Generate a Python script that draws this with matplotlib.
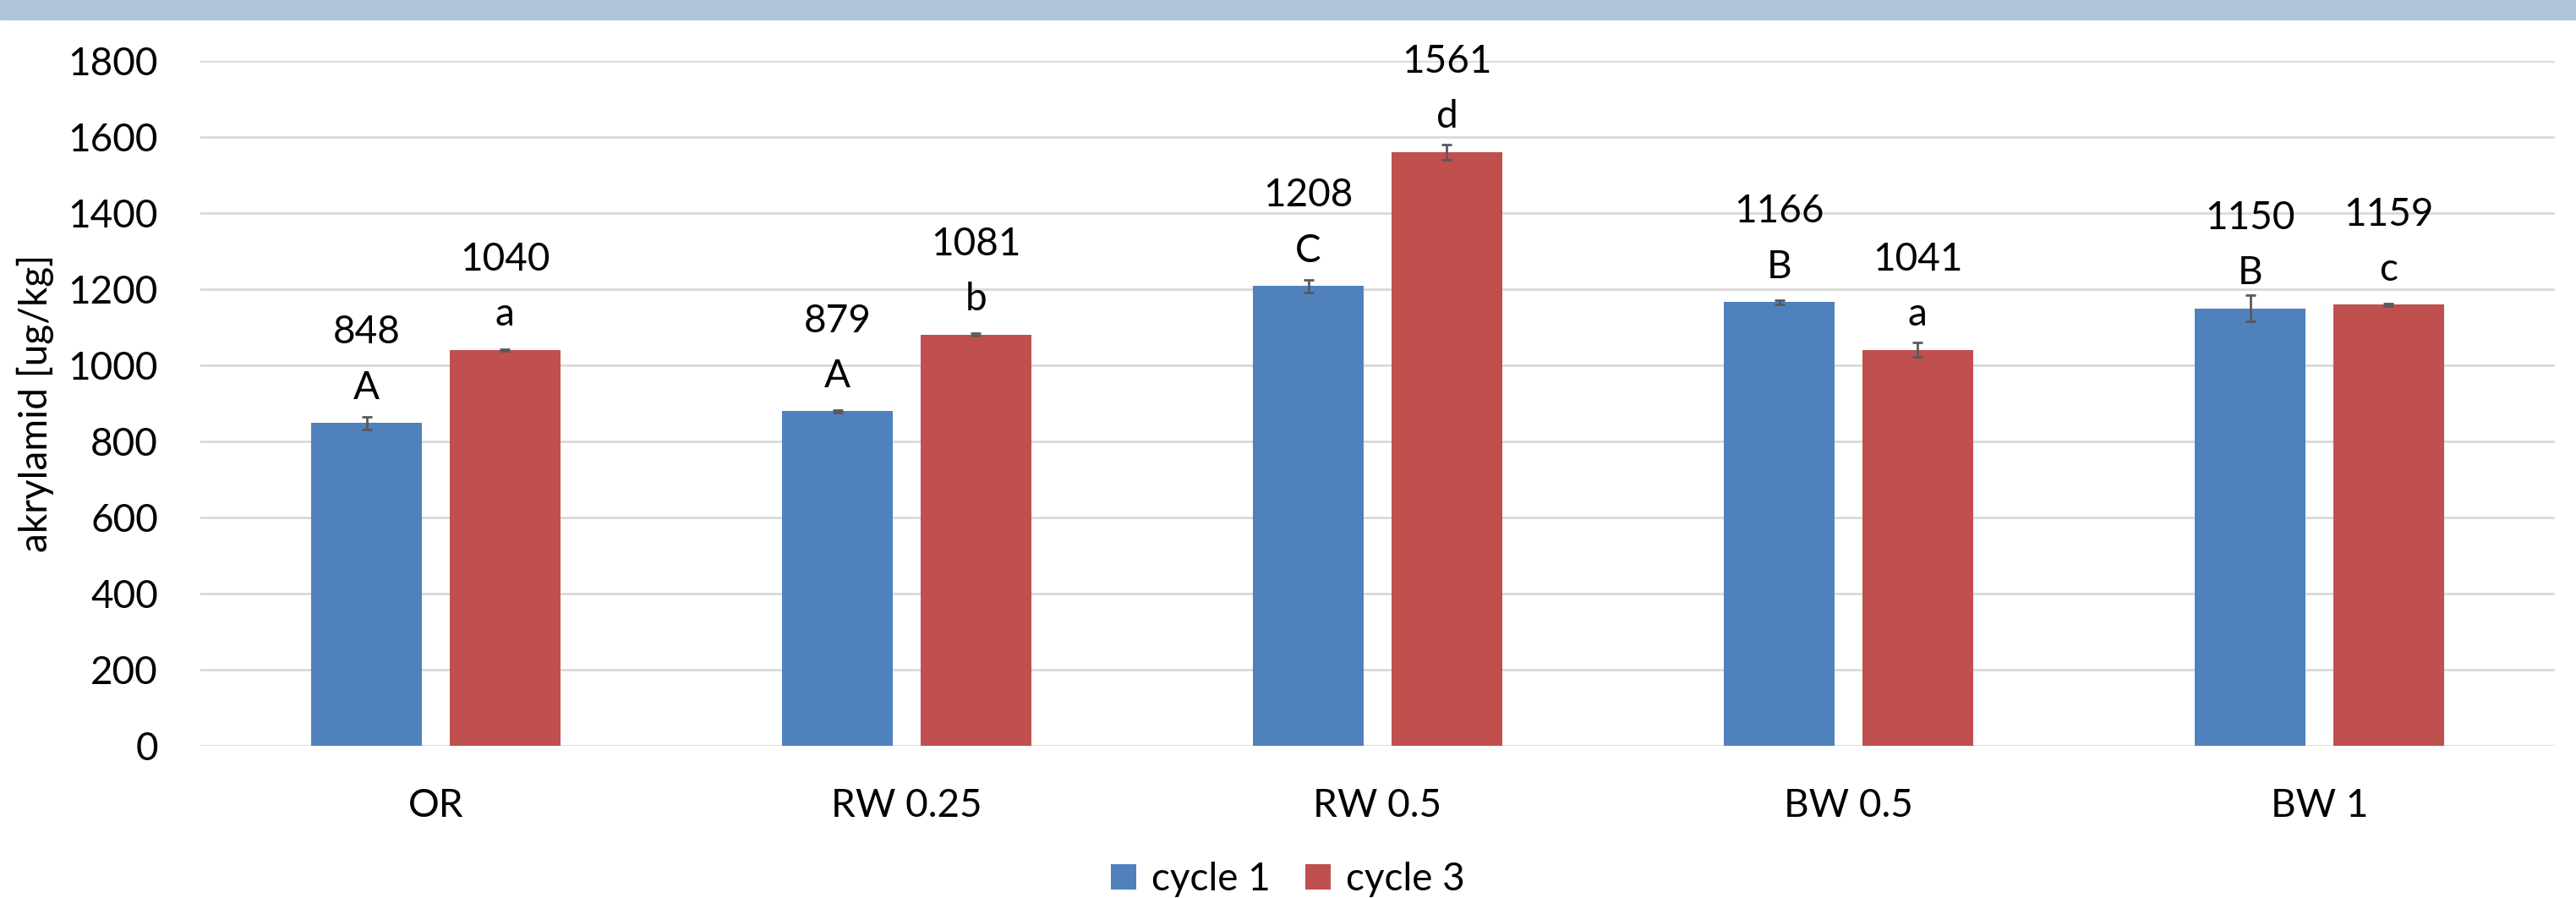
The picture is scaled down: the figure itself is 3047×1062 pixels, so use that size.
import matplotlib
matplotlib.use('Agg')
import matplotlib.pyplot as plt
import numpy as np
from matplotlib.patches import Rectangle

# data
categories = ['OR', 'RW 0.25', 'RW 0.5', 'BW 0.5', 'BW 1']
cycle1 = [848, 879, 1208, 1166, 1150]
cycle3 = [1040, 1081, 1561, 1041, 1159]
err1 = [17, 4, 17, 6, 35]
err3 = [3, 3, 20, 18, 3]
letters1 = ['A', 'A', 'C', 'B', 'B']
letters3 = ['a', 'b', 'd', 'a', 'c']

plt.rcParams['font.family'] = ['Lato', 'DejaVu Sans']
fs = 33

fig = plt.figure(figsize=(30.47, 10.62), dpi=100)
ax = fig.add_axes([237 / 3047, 1 - 882 / 1062, (3022 - 237) / 3047, (882 - 72) / 1062])

# light blue band on top
fig.patches.append(Rectangle((0, 1 - 23 / 1062), 1, 23 / 1062, transform=fig.transFigure,
                             color='#AFC5DA', zorder=0))

x = np.arange(len(categories))
w = 0.234
off = 0.147
blue = '#4F81BD'
red = '#C0504D'

b1 = ax.bar(x - off, cycle1, w, color=blue, label='cycle 1', zorder=3)
b3 = ax.bar(x + off, cycle3, w, color=red, label='cycle 3', zorder=3)
ax.errorbar(x - off, cycle1, yerr=err1, fmt='none', ecolor='#595959', elinewidth=2,
            capsize=4.5, capthick=2, zorder=4)
ax.errorbar(x + off, cycle3, yerr=err3, fmt='none', ecolor='#595959', elinewidth=2,
            capsize=4.5, capthick=2, zorder=4)

# value + significance letters above bars
for xs, vals, lets in [(x - off, cycle1, letters1), (x + off, cycle3, letters3)]:
    for xi, v, l in zip(xs, vals, lets):
        ax.annotate(l, (xi, v), xytext=(0, 30), textcoords='offset points',
                    ha='center', va='center', fontsize=fs, annotation_clip=False)
        ax.annotate(str(v), (xi, v), xytext=(0, 77), textcoords='offset points',
                    ha='center', va='center', fontsize=fs, annotation_clip=False)

ax.set_xlim(-0.5, len(categories) - 0.5)
ax.set_ylim(0, 1800)
ax.set_yticks(range(0, 1801, 200))
ax.set_xticks(x)
ax.set_xticklabels(categories)
ax.tick_params(axis='both', length=0, labelsize=fs)
ax.tick_params(axis='y', pad=36)
ax.tick_params(axis='x', pad=36)
ax.grid(axis='y', color='#D9D9D9', linewidth=2, zorder=0)
for s in ax.spines.values():
    s.set_visible(False)
ax.set_ylabel('akrylamid [ug/kg]', fontsize=fs)
ax.yaxis.set_label_coords(-0.062, 0.5)

fig.legend(handles=[b1, b3], loc='center', bbox_to_anchor=(0.5, 1 - 1040 / 1062), ncol=2,
           frameon=False, fontsize=fs, handlelength=0.65, handleheight=0.65,
           handletextpad=0.4, columnspacing=0.9)

fig.savefig('out.png', dpi=100)
